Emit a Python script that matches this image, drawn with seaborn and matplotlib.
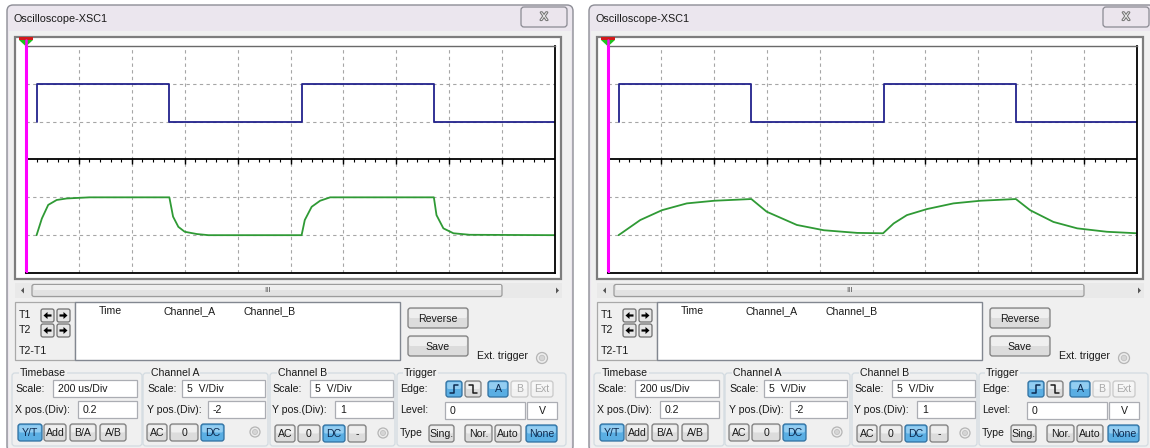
import matplotlib
matplotlib.use("Agg")
import matplotlib.pyplot as plt
import matplotlib.patheffects as pe
from matplotlib.patches import Rectangle, FancyBboxPatch, Polygon, Circle, FancyArrow
import numpy as np
import seaborn as sns

W, H = 1150, 448

# ---------------- data (scope divisions) ----------------
# Channel A: square wave (same in both windows)
time_a = [0.2, 0.2, 2.71, 2.71, 5.21, 5.21, 7.71, 7.71, 10.0]
chan_a = [1.0, 2.0, 2.0, 1.0, 1.0, 2.0, 2.0, 1.0, 1.0]

# Channel B, left window (small RC time constant)
time_b_left = [0.2, 0.30, 0.42, 0.58, 0.77, 1.2, 2.71, 2.78, 2.88, 3.0, 3.23, 3.45,
               5.21, 5.27, 5.40, 5.56, 5.75, 7.71, 7.76, 7.89, 8.08, 8.39, 10.0]
chan_b_left = [-2.0, -1.56, -1.20, -1.07, -1.03, -1.0, -1.0, -1.51, -1.78, -1.91, -1.97, -2.0,
               -2.0, -1.60, -1.25, -1.09, -1.0, -1.0, -1.47, -1.82, -1.95, -1.99, -2.0]

# Channel B, right window (large RC time constant)
time_b_right = [0.2, 0.61, 1.02, 1.49, 2.01, 2.71, 3.0, 3.57, 4.08, 4.71, 5.20,
                5.40, 5.65, 6.03, 6.53, 7.04, 7.71, 7.98, 8.42, 8.87, 9.43, 10.0]
chan_b_right = [-2.0, -1.60, -1.34, -1.16, -1.09, -1.045, -1.38, -1.73, -1.87, -1.94, -1.95,
                -1.69, -1.47, -1.31, -1.16, -1.09, -1.045, -1.34, -1.65, -1.82, -1.91, -1.95]

window_title = "Oscilloscope-XSC1"
cursor_headers = ["Time", "Channel_A", "Channel_B"]
cursor_rows = ["T1", "T2", "T2-T1"]
timebase_vals = ["200 us/Div", "0.2"]
chan_a_vals = ["5  V/Div", "-2"]
chan_b_vals = ["5  V/Div", "1"]
trigger_level = ["0", "V"]

COL_A = "#22228c"
COL_B = "#2f9a35"

sns.set_style("white")
plt.rcParams["font.family"] = ["Liberation Sans", "DejaVu Sans"]

fig = plt.figure(figsize=(W / 100, H / 100), dpi=100)
fig.patch.set_facecolor("white")
bg = fig.add_axes([0, 0, 1, 1])
bg.set_xlim(0, W)
bg.set_ylim(H, 0)
bg.axis("off")


def frac(x0, y0, x1, y1):
    return [x0 / W, 1 - y1 / H, (x1 - x0) / W, (y1 - y0) / H]


def box(x0, y0, x1, y1, fc="none", ec="none", lw=1.0, r=0, z=2):
    if r:
        p = FancyBboxPatch((x0, y0), x1 - x0, y1 - y0,
                           boxstyle=f"round,pad=0,rounding_size={r}",
                           fc=fc, ec=ec, lw=lw, zorder=z)
    else:
        p = Rectangle((x0, y0), x1 - x0, y1 - y0, fc=fc, ec=ec, lw=lw, zorder=z)
    bg.add_patch(p)


def txt(x, y, s, size=7.6, color="#1a1a1a", ha="left", z=5, **kw):
    bg.text(x, y, s, fontsize=size, color=color, ha=ha, va="center", zorder=z, **kw)


def button(x0, y0, x1, y1, label, state="normal"):
    if state == "on":
        lo, hi, ec, tc = "#5aaee3", "#93cdf1", "#2f6f9f", "#0d2a50"
    elif state == "off":
        lo, hi, ec, tc = "#f2f2f2", "#f7f7f7", "#c9c9c9", "#a9a9a9"
    else:
        lo, hi, ec, tc = "#dcdcdc", "#efefef", "#7d7d7d", "#1a1a1a"
    box(x0, y0, x1, y1, lo, ec, 0.9, r=2.5, z=3)
    box(x0 + 1.2, y0 + 1.2, x1 - 1.2, (y0 + y1) / 2, hi, "none", 0, r=1.5, z=3.1)
    if label:
        txt((x0 + x1) / 2, (y0 + y1) / 2 + 0.5, label, ha="center", color=tc)


def field(x0, y0, x1, y1, label, ha="left"):
    box(x0, y0, x1, y1, "white", "#abadb3", 0.9, z=3)
    if ha == "left":
        txt(x0 + 5, (y0 + y1) / 2 + 0.5, label)
    else:
        txt((x0 + x1) / 2, (y0 + y1) / 2 + 0.5, label, ha="center")


def group(x0, y0, x1, y1, title, tx):
    box(x0, y0, x1, y1, "none", "#d3dbe1", 0.9, r=3, z=2.5)
    txt(tx, y0, title, bbox=dict(fc="#f0f0f0", ec="none", pad=0.6))


def radio(cx, cy, r=5.5):
    bg.add_patch(Circle((cx, cy), r, fc="#ececec", ec="#b5b5b5", lw=0.9, zorder=3))
    bg.add_patch(Circle((cx, cy), r * 0.5, fc="#d5d5d5", ec="#c0c0c0", lw=0.6, zorder=3.1))


def arrow_button(x0, y0, direction):
    box(x0, y0, x0 + 13, y0 + 13, "#e6e6e6", "#6f6f6f", 0.9, r=2, z=3)
    cx, cy = x0 + 6.5, y0 + 6.5
    if direction < 0:
        a = FancyArrow(cx + 4, cy, -8, 0, width=2.2, head_width=7, head_length=4,
                       length_includes_head=True, fc="black", ec="none", zorder=5)
    else:
        a = FancyArrow(cx - 4, cy, 8, 0, width=2.2, head_width=7, head_length=4,
                       length_includes_head=True, fc="black", ec="none", zorder=5)
    bg.add_patch(a)


def draw_window(ox, t_b, v_b):
    X = lambda v: v + ox
    # frame + title bar
    box(X(7), 5, X(573), 452, "#ebe6ee", "#8d8d96", 1.0, r=6, z=1)
    txt(X(14), 19, window_title, size=7.8, color="#1a1a1a")
    box(X(521), 7, X(567), 27, "#ebe5ed", "#8a8a92", 0.9, r=3, z=2)
    bg.text(X(544), 17, "X", fontsize=8, color="#f8f8f8", ha="center", va="center",
            zorder=5, path_effects=[pe.withStroke(linewidth=1.6, foreground="#7a7a7a")])
    # client
    box(X(9), 31, X(571), 449, "#f0f0f0", "none", 0, z=1.2)
    # plot container
    box(X(15), 37, X(561), 279, "white", "#7d7d7d", 1.6, z=1.5)
    # trigger marker and cursor stub
    bg.add_patch(Rectangle((X(19), 37.5), 14, 2.6, fc="#d11a1a", ec="none", zorder=3))
    bg.add_patch(Polygon([(X(19), 40), (X(33), 40), (X(26), 46.5)], closed=True,
                         fc="#1fc21f", ec="none", zorder=3))
    bg.plot([X(26), X(26)], [40, 46.5], color="#ff00ff", lw=1.8, zorder=3.5)
    # scrollbar
    box(X(15), 283, X(562), 298, "#e9e9e9", "none", 0, z=2)
    box(X(32), 284.5, X(502), 296.5, "#e2e2e2", "#9c9c9c", 0.9, r=2, z=3)
    box(X(33.5), 285.5, X(500.5), 290.5, "#efefef", "none", 0, z=3.1)
    txt(X(267), 290.5, "III", size=5.5, color="#4a4a4a", ha="center")
    bg.add_patch(Polygon([(X(21), 290.5), (X(24), 287.5), (X(24), 293.5)], fc="#555555",
                         ec="none", zorder=3))
    bg.add_patch(Polygon([(X(559), 290.5), (X(556), 287.5), (X(556), 293.5)], fc="#555555",
                         ec="none", zorder=3))
    # cursor panel
    box(X(15), 302, X(75), 360, "#f0f0f0", "#a9a9a9", 0.9, z=2)
    txt(X(19), 315, cursor_rows[0])
    txt(X(19), 330, cursor_rows[1])
    txt(X(19), 351, cursor_rows[2])
    for yy in (309, 324):
        arrow_button(X(41), yy, -1)
        arrow_button(X(57), yy, 1)
    box(X(75), 302, X(400), 360, "white", "#828790", 1.0, z=2)
    for xx, h in zip((99, 163, 243), cursor_headers):
        txt(X(xx), 311, h)
    button(X(408), 308, X(468), 328, "Reverse")
    button(X(408), 336, X(468), 356, "Save")
    txt(X(477), 356, "Ext. trigger")
    radio(X(542), 358)

    # ---- lower control groups ----
    group(X(12), 373, X(142), 446, "Timebase", X(20))
    txt(X(15), 389, "Scale:")
    field(X(53), 380, X(137), 397, timebase_vals[0])
    txt(X(15), 410, "X pos.(Div):")
    field(X(78), 401, X(137), 418, timebase_vals[1])
    button(X(18), 424, X(42), 441, "Y/T", "on")
    button(X(44), 424, X(66), 441, "Add")
    button(X(70), 424, X(96), 441, "B/A")
    button(X(100), 424, X(126), 441, "A/B")

    group(X(143), 373, X(268), 446, "Channel A", X(151))
    txt(X(147), 389, "Scale:")
    field(X(182), 380, X(265), 397, chan_a_vals[0])
    txt(X(147), 410, "Y pos.(Div):")
    field(X(208), 401, X(265), 418, chan_a_vals[1])
    button(X(147), 424, X(167), 441, "AC")
    button(X(170), 424, X(198), 441, "0")
    button(X(201), 424, X(224), 441, "DC", "on")
    radio(X(255), 432, 5)

    group(X(270), 373, X(395), 446, "Channel B", X(278))
    txt(X(272), 389, "Scale:")
    field(X(310), 380, X(393), 397, chan_b_vals[0])
    txt(X(272), 410, "Y pos.(Div):")
    field(X(335), 401, X(393), 418, chan_b_vals[1])
    button(X(275), 425, X(295), 442, "AC")
    button(X(298), 425, X(320), 442, "0")
    button(X(323), 425, X(345), 442, "DC", "on")
    button(X(348), 425, X(366), 442, "-")
    radio(X(383), 433, 5)

    group(X(397), 373, X(566), 446, "Trigger", X(404))
    txt(X(400), 389, "Edge:")
    button(X(446), 381, X(462), 397, "", "on")
    bg.plot([X(450), X(453.5), X(453.5), X(458)], [393, 393, 385, 385], color="#0d2a50",
            lw=1.1, zorder=5)
    button(X(465), 381, X(481), 397, "")
    bg.plot([X(469), X(472.5), X(472.5), X(477)], [385, 385, 393, 393], color="#1a1a1a",
            lw=1.1, zorder=5)
    button(X(488), 381, X(508), 397, "A", "on")
    button(X(511), 381, X(528), 397, "B", "off")
    button(X(531), 381, X(553), 397, "Ext", "off")
    txt(X(400), 410, "Level:")
    field(X(445), 402, X(525), 419, trigger_level[0])
    field(X(527), 402, X(557), 419, trigger_level[1], ha="center")
    txt(X(400), 433, "Type")
    button(X(429), 425, X(454), 442, "Sing.")
    button(X(465), 425, X(492), 442, "Nor.")
    button(X(495), 425, X(521), 442, "Auto")
    button(X(526), 425, X(557), 442, "None", "on")

    # ---- scope screen ----
    ax = fig.add_axes(frac(X(26), 46, X(555), 273))
    ax.set_zorder(5)
    ax.set_facecolor("white")
    sns.lineplot(x=time_a, y=chan_a, ax=ax, color=COL_A, lw=1.3,
                 estimator=None, sort=False, legend=False)
    sns.lineplot(x=t_b, y=v_b, ax=ax, color=COL_B, lw=1.3,
                 estimator=None, sort=False, legend=False)
    ax.set_xlim(0, 10)
    ax.set_ylim(-3, 3)
    ax.set_xticks(np.arange(1, 10))
    ax.set_yticks([-2, -1, 1, 2])
    ax.grid(True, color="#a6a6a6", linestyle=(0, (3, 3)), linewidth=0.8)
    ax.set_axisbelow(True)
    ax.tick_params(length=0, labelbottom=False, labelleft=False)
    ax.set_xlabel("")
    ax.set_ylabel("")
    ax.axhline(0, color="black", lw=1.3, zorder=1.5)
    ax.vlines(np.arange(0.2, 10, 0.2), -0.075, 0, color="black", lw=0.8, zorder=1.5)
    ax.vlines(np.arange(1, 10), -0.11, 0.04, color="black", lw=1.0, zorder=1.5)
    ax.axvline(0, color="#ff00ff", lw=2.2, zorder=4)
    ax.spines["top"].set_color("#6a6a6a")
    ax.spines["top"].set_linewidth(1.0)
    for s in ("right", "bottom"):
        ax.spines[s].set_color("black")
        ax.spines[s].set_linewidth(1.3)
    ax.spines["left"].set_color("#ff00ff")
    ax.spines["left"].set_linewidth(1.5)


draw_window(0, time_b_left, chan_b_left)
draw_window(582, time_b_right, chan_b_right)

fig.savefig("out.png", dpi=100, facecolor="white")
